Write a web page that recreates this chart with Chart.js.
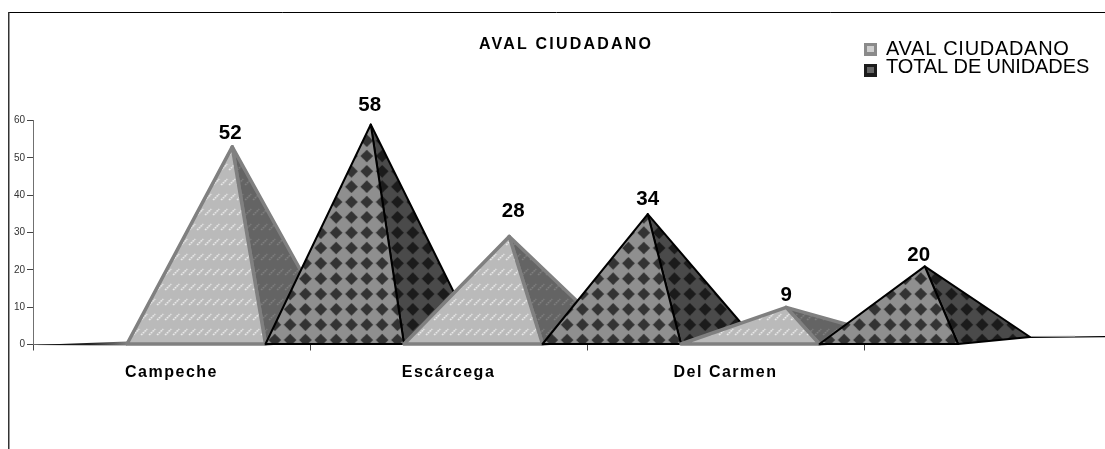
<!DOCTYPE html>
<html><head><meta charset="utf-8">
<script src="https://cdn.jsdelivr.net/npm/chart.js@4"></script>
<style>html,body{margin:0;padding:0;background:#fff}#w{position:relative;width:1105px;height:449px}canvas{display:block}</style>
</head><body><div id="w"><canvas id="c" width="1105" height="449"></canvas></div>
<script>
const categories = ['Campeche', 'Escárcega', 'Del Carmen'];
const avalCiudadano = [52, 28, 9];
const totalUnidades = [58, 34, 20];
const yTicks = [0, 10, 20, 30, 40, 50, 60];
const seriesNames = ['AVAL CIUDADANO', 'TOTAL DE UNIDADES'];
const chartTitle = 'AVAL CIUDADANO';

const FONT = '"Liberation Sans", Arial, sans-serif';
const SHIFT = 94, DX = 72, DY = -7;
// value-label nudges [dx, gap above apex], per series then category
const labelNudge = [[[-2, 8], [4, 19], [0, 6]], [[-1, 13], [0, 9], [-6, 5]]];

function tile(w, h, bg, paint) {
  const c = document.createElement('canvas'); c.width = w; c.height = h;
  const g = c.getContext('2d'); g.fillStyle = bg; g.fillRect(0, 0, w, h); paint(g); return c;
}
function dashTile(bg, fg) {
  return tile(8, 15, bg, g => {
    g.strokeStyle = fg; g.lineWidth = 1.5; g.setLineDash([1.6, 0.9]);
    for (const o of [-8, 0, 8]) { g.beginPath(); g.moveTo(o + 1, 10); g.lineTo(o + 7, 4); g.stroke(); }
  });
}
function diamondTile(bg, fg) {
  const P = 46, s = P / 3, r = 6.3;
  return tile(P, P, bg, g => {
    g.fillStyle = fg;
    for (let i = -1; i <= 3; i++) for (let j = -1; j <= 3; j++) {
      const x = i * s, y = j * s;
      g.beginPath(); g.moveTo(x - r, y); g.lineTo(x, y - r); g.lineTo(x + r, y); g.lineTo(x, y + r); g.closePath(); g.fill();
    }
  });
}
const styles = [
  { front: dashTile('#bababa', '#f2f2f2'), side: dashTile('#646464', '#848484'), line: '#808080', lw: 3.5 },
  { front: diamondTile('#8f8f8f', '#333333'), side: diamondTile('#4a4a4a', '#1b1b1b'), line: '#000000', lw: 2 }
];

function pyramid(ctx, el, st) {
  const half = el.width / 2;
  const l = el.x - half + SHIFT, r = el.x + half + SHIFT, base = el.base;
  const ax = (l + r) / 2 + DX / 2, ay = el.y + DY / 2;
  const pf = ctx.createPattern(st.front, 'repeat'), ps = ctx.createPattern(st.side, 'repeat');
  ctx.save();
  ctx.lineJoin = 'round'; ctx.lineWidth = st.lw; ctx.strokeStyle = st.line;
  const path = pts => { ctx.beginPath(); pts.forEach((p, i) => i ? ctx.lineTo(p[0], p[1]) : ctx.moveTo(p[0], p[1])); ctx.closePath(); };
  const fillAt = (p) => {
    ctx.save(); ctx.translate(ax - 4, base - 4); ctx.fillStyle = p; ctx.fill(); ctx.restore();
  };
  path([[r, base], [r + DX, base + DY], [ax, ay]]); fillAt(ps); ctx.stroke();
  path([[l, base], [r, base], [ax, ay]]); fillAt(pf); ctx.stroke();
  ctx.restore();
}

const pyramidPlugin = {
  id: 'pyramids',
  beforeDraw(chart) {
    const ctx = chart.ctx, s = chart.scales.x;
    ctx.save(); ctx.fillStyle = '#fff'; ctx.fillRect(0, 0, chart.width, chart.height);
    ctx.strokeStyle = '#000'; ctx.lineWidth = 1;
    ctx.beginPath(); ctx.moveTo(8, 12.5); ctx.lineTo(1105, 12.5); ctx.stroke();
    ctx.strokeStyle = '#333'; ctx.lineWidth = 1.5;
    ctx.beginPath(); ctx.moveTo(8.75, 12); ctx.lineTo(8.75, 449); ctx.stroke();
    ctx.restore();
    if (!s._spaced) {
      const o = s.drawLabels.bind(s);
      s.drawLabels = a => { ctx.save(); ctx.letterSpacing = '1.5px'; o(a); ctx.restore(); };
      s._spaced = true;
    }
  },
  afterDatasetsDraw(chart) {
    const ctx = chart.ctx, y0 = chart.scales.y.getPixelForValue(0);
    const m0 = chart.getDatasetMeta(0).data, m1 = chart.getDatasetMeta(1).data;
    const firstL = m0[0].x - m0[0].width / 2 + SHIFT;
    const lastR = m1[m1.length - 1].x + m1[m1.length - 1].width / 2 + SHIFT;
    // floor edges
    ctx.save();
    const gl = ctx.createLinearGradient(chart.chartArea.left, 0, firstL, 0);
    gl.addColorStop(0, '#000'); gl.addColorStop(0.6, '#222'); gl.addColorStop(1, '#808080');
    ctx.fillStyle = gl; ctx.beginPath(); ctx.moveTo(chart.chartArea.left, y0 + 0.5); ctx.lineTo(firstL, y0 - 3); ctx.lineTo(firstL, y0 + 1); ctx.closePath(); ctx.fill();
    ctx.strokeStyle = '#000'; ctx.lineWidth = 1.2;
    ctx.beginPath(); ctx.moveTo(lastR + DX, y0 + DY); ctx.lineTo(chart.width, y0 + DY - 0.8); ctx.stroke();
    ctx.strokeStyle = '#999'; ctx.lineWidth = 1;
    ctx.beginPath(); ctx.moveTo(lastR + DX, y0 + DY - 1); ctx.lineTo(lastR + DX + 45, y0 + DY - 1.2); ctx.stroke();
    ctx.restore();
    // pyramids, back to front by position
    categories.forEach((_, i) => {
      [0, 1].forEach(d => pyramid(ctx, chart.getDatasetMeta(d).data[i], styles[d]));
    });
    // value labels
    ctx.save(); ctx.fillStyle = '#000'; ctx.font = 'bold 20.5px ' + FONT; ctx.textAlign = 'center'; ctx.textBaseline = 'alphabetic';
    categories.forEach((_, i) => {
      [0, 1].forEach(d => {
        const el = chart.getDatasetMeta(d).data[i];
        const ax = el.x + SHIFT + DX / 2, n = labelNudge[d][i];
        ctx.fillText(String(chart.data.datasets[d].data[i]), ax + n[0], el.y + DY / 2 - n[1]);
      });
    });
    // title
    ctx.font = 'bold 16px ' + FONT; ctx.letterSpacing = '2.2px';
    ctx.fillText(chartTitle, 566, 49);
    // legend
    ctx.textAlign = 'left'; ctx.font = '20px ' + FONT;
    const rows = [[43, 55, 0, '0.7px'], [64, 73, 1, '-0.1px']];
    rows.forEach(([sy, by, d, sp]) => {
      ctx.letterSpacing = '0px';
      ctx.fillStyle = d ? '#1c1c1c' : '#8a8a8a'; ctx.fillRect(864, sy, 13, 13);
      ctx.fillStyle = d ? '#666666' : '#cfcfcf'; ctx.fillRect(867, sy + 3, 7, 6);
      ctx.fillStyle = '#000'; ctx.letterSpacing = sp;
      ctx.fillText(seriesNames[d], 886, by);
    });
    ctx.restore();
  }
};

new Chart(document.getElementById('c'), {
  type: 'bar',
  data: {
    labels: categories,
    datasets: [
      { label: seriesNames[0], data: avalCiudadano, backgroundColor: 'rgba(0,0,0,0)', borderWidth: 0 },
      { label: seriesNames[1], data: totalUnidades, backgroundColor: 'rgba(0,0,0,0)', borderWidth: 0 }
    ]
  },
  options: {
    responsive: false, animation: false,
    layout: { padding: { left: 0, right: 241, top: 120.5, bottom: 0 } },
    datasets: { bar: { barPercentage: 1, categoryPercentage: 1 } },
    plugins: { legend: { display: false }, title: { display: false }, tooltip: { enabled: false } },
    scales: {
      x: {
        grid: { drawOnChartArea: false, color: '#444', tickLength: 6, offset: true },
        border: { color: '#707070', width: 1 },
        ticks: { color: '#000', font: { family: FONT, size: 16, weight: 'bold' }, padding: 12, maxRotation: 0, autoSkip: false },
        afterFit: s => { s.height = 104.5; }
      },
      y: {
        min: 0, max: 60, afterBuildTicks: a => { a.ticks = yTicks.map(v => ({ value: v })); },
        grid: { drawOnChartArea: false, color: '#444', tickLength: 6 },
        border: { color: '#707070', width: 1 },
        ticks: { color: '#333', font: { family: FONT, size: 10 }, padding: 2 },
        afterFit: s => { s.width = 33; }
      }
    }
  },
  plugins: [pyramidPlugin]
});
</script></body></html>
